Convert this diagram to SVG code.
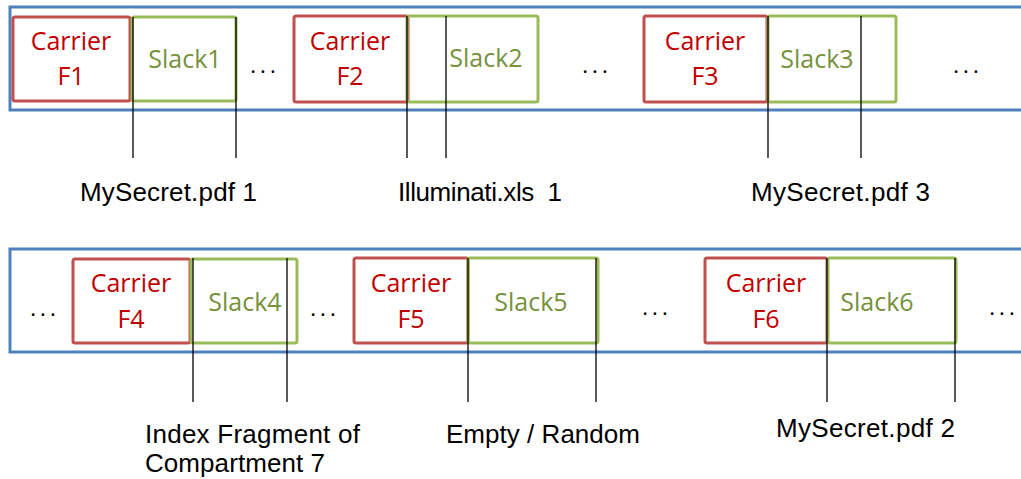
<svg xmlns="http://www.w3.org/2000/svg" width="1021" height="479" viewBox="0 0 1021 479">
  <style>
    .band { fill: none; stroke: #4F81BD; stroke-width: 3; }
    .carrier { fill: #FFFFFF; stroke: #C0504D; stroke-width: 3; }
    .slack { fill: none; stroke: #9BBB59; stroke-width: 3; }
    .ct { font-family: "Open Sans", "Noto Sans", sans-serif; font-size: 25px; fill: #C00000; text-anchor: middle; }
    .st { font-family: "Open Sans", "Noto Sans", sans-serif; font-size: 25px; fill: #76923C; text-anchor: middle; }
    .dots { font-family: "Open Sans", "Noto Sans", sans-serif; font-size: 22px; letter-spacing: 4.1px; fill: #000000; text-anchor: middle; }
    .lbl { font-family: "Liberation Sans", Arial, sans-serif; font-size: 26px; fill: #000000; }
    .conn line { stroke: #000000; stroke-width: 1.3; }
  </style>

  <!-- storage bands -->
  <g id="band-top">
    <rect class="band" x="10" y="7" width="1030" height="103"/>
  </g>
  <g id="band-bottom">
    <rect class="band" x="10" y="249" width="1030" height="103"/>
  </g>

  <!-- top row -->
  <g id="carrier-f1">
    <rect class="carrier" x="13" y="17" width="117" height="84" rx="2"/>
    <text class="ct" x="71" y="50">Carrier</text>
    <text class="ct" x="71" y="85">F1</text>
  </g>
  <g id="slack-1">
    <rect class="slack" x="132" y="17" width="104" height="84" rx="2"/>
    <text class="st" x="185" y="68">Slack1</text>
  </g>
  <g id="carrier-f2">
    <rect class="carrier" x="294" y="16" width="114" height="86" rx="2"/>
    <text class="ct" x="350" y="50">Carrier</text>
    <text class="ct" x="350" y="85">F2</text>
  </g>
  <g id="slack-2">
    <rect class="slack" x="407" y="16" width="131" height="86" rx="2"/>
    <text class="st" x="486" y="67">Slack2</text>
  </g>
  <g id="carrier-f3">
    <rect class="carrier" x="644" y="16" width="123" height="86" rx="2"/>
    <text class="ct" x="705" y="50">Carrier</text>
    <text class="ct" x="705" y="85">F3</text>
  </g>
  <g id="slack-3">
    <rect class="slack" x="768" y="16" width="128" height="86" rx="2"/>
    <text class="st" x="817" y="68">Slack3</text>
  </g>
  <g id="gaps-top">
    <text class="dots" x="265" y="73">...</text>
    <text class="dots" x="597" y="73">...</text>
    <text class="dots" x="968" y="73">...</text>
  </g>

  <!-- bottom row -->
  <g id="carrier-f4">
    <rect class="carrier" x="73" y="259" width="117" height="84" rx="2"/>
    <text class="ct" x="131" y="292">Carrier</text>
    <text class="ct" x="131" y="328">F4</text>
  </g>
  <g id="slack-4">
    <rect class="slack" x="191" y="259" width="106" height="84" rx="2"/>
    <text class="st" x="245" y="311">Slack4</text>
  </g>
  <g id="carrier-f5">
    <rect class="carrier" x="354" y="258" width="114" height="85" rx="2"/>
    <text class="ct" x="411" y="292">Carrier</text>
    <text class="ct" x="411" y="328">F5</text>
  </g>
  <g id="slack-5">
    <rect class="slack" x="468" y="258" width="130" height="85" rx="2"/>
    <text class="st" x="531" y="311">Slack5</text>
  </g>
  <g id="carrier-f6">
    <rect class="carrier" x="705" y="258" width="122" height="85" rx="2"/>
    <text class="ct" x="766" y="292">Carrier</text>
    <text class="ct" x="766" y="328">F6</text>
  </g>
  <g id="slack-6">
    <rect class="slack" x="828" y="258" width="128" height="85" rx="2"/>
    <text class="st" x="877" y="311">Slack6</text>
  </g>
  <g id="gaps-bottom">
    <text class="dots" x="45" y="316">...</text>
    <text class="dots" x="325" y="316">...</text>
    <text class="dots" x="657" y="315">...</text>
    <text class="dots" x="1004" y="315">...</text>
  </g>

  <!-- extent markers -->
  <g id="connectors" class="conn">
    <line x1="133" y1="17" x2="133" y2="158"/>
    <line x1="236" y1="17" x2="236" y2="158"/>
    <line x1="407" y1="16" x2="407" y2="158"/>
    <line x1="446" y1="16" x2="446" y2="158"/>
    <line x1="768" y1="16" x2="768" y2="158"/>
    <line x1="861" y1="16" x2="861" y2="158"/>
    <line x1="193" y1="258" x2="193" y2="402"/>
    <line x1="287" y1="258" x2="287" y2="402"/>
    <line x1="468" y1="258" x2="468" y2="402"/>
    <line x1="596" y1="258" x2="596" y2="402"/>
    <line x1="827" y1="258" x2="827" y2="402"/>
    <line x1="955" y1="258" x2="955" y2="402"/>
  </g>

  <!-- fragment labels -->
  <g id="label-mysecret-1"><text class="lbl" x="80" y="201" textLength="177" lengthAdjust="spacing">MySecret.pdf 1</text></g>
  <g id="label-illuminati-1"><text class="lbl" x="398" y="201" textLength="164" lengthAdjust="spacing" xml:space="preserve">Illuminati.xls  1</text></g>
  <g id="label-mysecret-3"><text class="lbl" x="751" y="201" textLength="179" lengthAdjust="spacing">MySecret.pdf 3</text></g>
  <g id="label-index-fragment">
    <text class="lbl" x="145" y="443" textLength="215" lengthAdjust="spacing">Index Fragment of</text>
    <text class="lbl" x="145" y="472" textLength="180" lengthAdjust="spacing">Compartment 7</text>
  </g>
  <g id="label-empty"><text class="lbl" x="446" y="443" textLength="194" lengthAdjust="spacing">Empty / Random</text></g>
  <g id="label-mysecret-2"><text class="lbl" x="776" y="437" textLength="179" lengthAdjust="spacing">MySecret.pdf 2</text></g>
</svg>
